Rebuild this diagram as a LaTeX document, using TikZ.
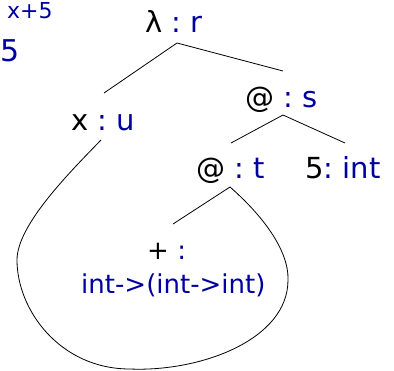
\documentclass[tikz,border=0pt]{standalone}
\usepackage{fontspec}
\setmainfont{DejaVu Sans}
\definecolor{tb}{RGB}{0,0,160}
\tikzset{
  lbl/.style={anchor=base west, inner sep=0pt, font=\fontsize{29}{34}\selectfont},
  small/.style={anchor=base west, inner sep=0pt, font=\fontsize{26}{30}\selectfont, text=tb},
  edge/.style={draw=black, line width=0.8pt}
}
\begin{document}
\begin{tikzpicture}[x=1pt,y=-1pt]
\useasboundingbox (0,0) rectangle (394,370);
% partial texts top-left
\node[anchor=base west, inner sep=0pt, text=tb, font=\fontsize{22}{26}\selectfont] (t1) at (7,18) {x+5};
\node[anchor=base west, inner sep=0pt, text=tb, font=\fontsize{30}{34}\selectfont] (t2) at (0,61) {5};
% labels
\node[lbl] (lam) at (145,32) {λ\ \textcolor{tb}{:\ r}};
\node[lbl] (u) at (71,130) {x\ \textcolor{tb}{:\ u}};
\node[lbl] (s) at (245,107) {@\ \textcolor{tb}{:\ s}};
\node[lbl] (t) at (196,178) {@\ \textcolor{tb}{:\ t}};
\node[lbl] (i) at (305,178) {5\textcolor{tb}{:\ int}};
\node[anchor=base west, inner sep=0pt, font=\fontsize{26}{30}\selectfont] (p) at (147,259) {+\ \textcolor{tb}{:}};
\node[small] (ty) at (81,293) {int->(int->int)};
% connector points
\coordinate (lamB) at (177,43);
\coordinate (uT) at (104,93);
\coordinate (sT) at (283,71);
\coordinate (sB) at (283,115);
\coordinate (tT) at (231,143);
\coordinate (iT) at (345,143);
\coordinate (tB) at (230,187);
\coordinate (pT) at (173,224);
\coordinate (uB) at (101,140);
\draw[edge] (uT) -- (lamB) -- (sT);
\draw[edge] (tT) -- (sB) -- (iT);
\draw[edge] (pT) -- (tB);
\draw[edge] (tB) .. controls (262,215) and (289,250) .. (288,280)
  .. controls (288,340) and (200,372) .. (130,369)
  .. controls (60,369) and (17,310) .. (17,260)
  .. controls (17,225) and (70,172) .. (uB);
\end{tikzpicture}
\end{document}
